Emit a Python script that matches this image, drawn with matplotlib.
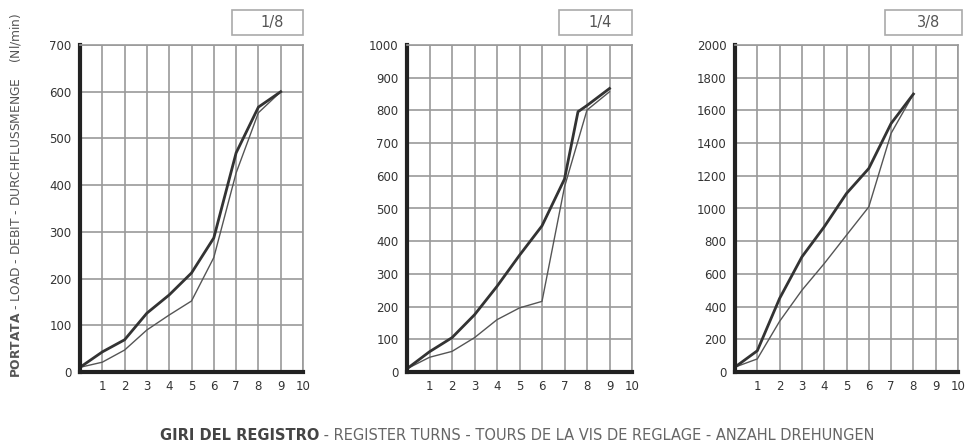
import matplotlib
matplotlib.use("Agg")
import matplotlib.pyplot as plt
from matplotlib.patches import Rectangle

plt.rcParams['font.family'] = ['DejaVu Sans']

# turns of the register
turns_18 = [0, 1, 2, 3, 4, 5, 6, 7, 8, 9]
upper_18 = [10, 43, 69, 126, 165, 212, 287, 469, 567, 600]
lower_18 = [10, 21, 47, 90, 122, 152, 245, 426, 555, 600]

turns_14_up = [0, 1, 2, 3, 4, 5, 6, 7, 7.6, 8, 9]
upper_14 = [10, 62, 105, 175, 262, 357, 447, 590, 796, 815, 867]
turns_14_lo = [0, 1, 2, 3, 4, 5, 6, 7, 8, 9]
lower_14 = [10, 45, 63, 105, 160, 196, 216, 566, 801, 857]

turns_38 = [0, 1, 2, 3, 4, 5, 6, 7, 8]
upper_38 = [30, 130, 450, 704, 888, 1092, 1245, 1520, 1700]
lower_38 = [30, 80, 310, 500, 663, 837, 1010, 1460, 1700]

titles = ['1/8', '1/4', '3/8']
ymax = [700, 1000, 2000]
ystep = [100, 100, 200]

W, H = 973, 444
fig = plt.figure(figsize=(W / 100, H / 100), dpi=100)

panels = [
    (80, 303, (turns_18, upper_18), (turns_18, lower_18), (232, 303)),
    (407, 632, (turns_14_up, upper_14), (turns_14_lo, lower_14), (559, 632)),
    (735, 958, (turns_38, upper_38), (turns_38, lower_38), (885, 962)),
]
top_px, bot_px = 45, 372

for i, (x0, x1, up, lo, box) in enumerate(panels):
    ax = fig.add_axes([x0 / W, (H - bot_px) / H, (x1 - x0) / W, (bot_px - top_px) / H])
    ax.set_xlim(0, 10)
    ax.set_ylim(0, ymax[i])
    ax.set_xticks(range(1, 11))
    ax.set_yticks(range(0, ymax[i] + 1, ystep[i]))
    ax.tick_params(length=0, labelsize=8.5, colors='#333333', pad=6)
    ax.grid(True, color='#9a9a9a', lw=1.2)
    ax.set_axisbelow(True)
    for s in ['top', 'right']:
        ax.spines[s].set_color('#9a9a9a')
        ax.spines[s].set_linewidth(1.2)
    for s in ['left', 'bottom']:
        ax.spines[s].set_color('#222222')
        ax.spines[s].set_linewidth(3)
    ax.plot(lo[0], lo[1], color='#555555', lw=1.0, clip_on=False)
    ax.plot(up[0], up[1], color='#333333', lw=2.0, clip_on=False)

    bx0, bx1 = box
    fig.patches.append(Rectangle((bx0 / W, (H - 35) / H), (bx1 - bx0) / W, 25 / H,
                                 transform=fig.transFigure, fill=False,
                                 edgecolor='#aaaaaa', lw=1.2))
    fig.text((bx0 + bx1) / 2 / W + 5 / W, (H - 22.5) / H, titles[i],
             ha='center', va='center', fontsize=10.5, color='#555555')

fig.text(16 / W, (H - 195) / H,
         r'$\bf{PORTATA}$' + ' - LOAD - DEBIT - DURCHFLUSSMENGE    (Nl/min)',
         rotation=90, ha='center', va='center', fontsize=8.8, color='#555555')

t1 = fig.text(160 / W, (H - 435) / H, 'GIRI DEL REGISTRO', fontweight='bold',
              ha='left', va='center', fontsize=10.5, color='#444444')
fig.canvas.draw()
bb = t1.get_window_extent()
fig.text(bb.x1 / W, (H - 435) / H,
         ' - REGISTER TURNS - TOURS DE LA VIS DE REGLAGE - ANZAHL DREHUNGEN',
         ha='left', va='center', fontsize=10.5, color='#666666')

fig.savefig('out.png', dpi=100)
